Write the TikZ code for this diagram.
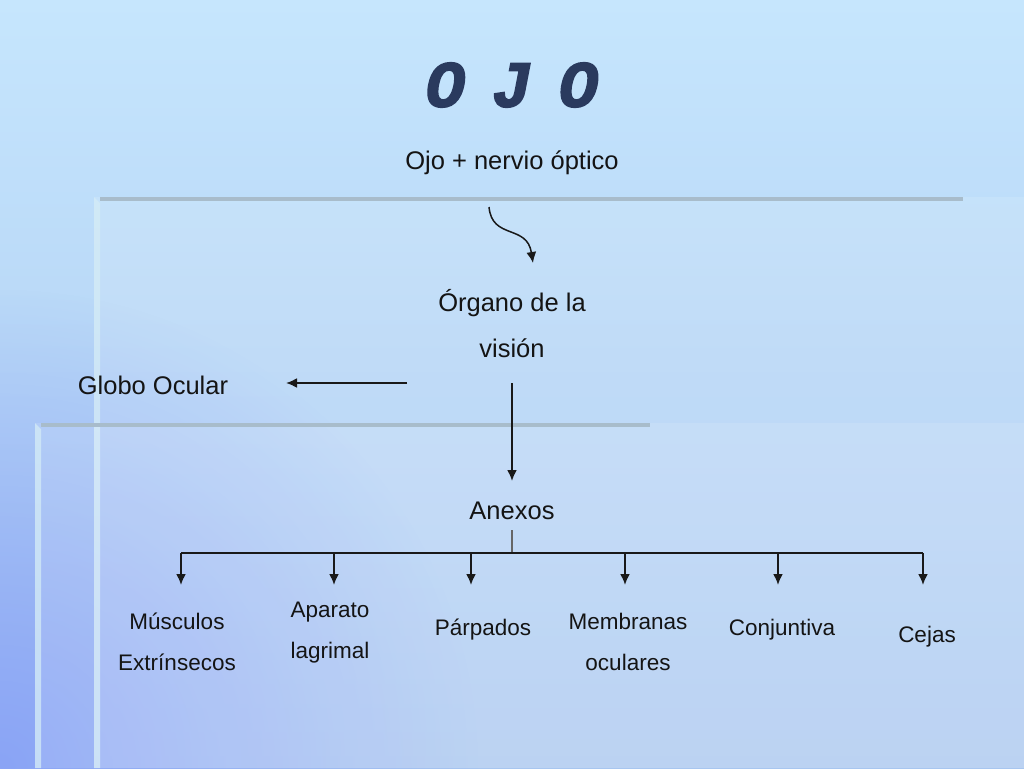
\documentclass[tikz,border=0pt]{standalone}
\usepackage{fontspec}
\setmainfont{Liberation Sans}
\newfontfamily\titlefont[BoldItalicFeatures={FakeBold=2.2}]{Liberation Mono}
\usetikzlibrary{arrows.meta,fadings}
\definecolor{bgtop}{HTML}{C6E6FD}
\definecolor{bgbot}{HTML}{A8C6F0}
\definecolor{bgpurple}{HTML}{8AA4F6}
\definecolor{titleblue}{HTML}{2A3A5E}
\definecolor{barcol}{HTML}{A8BCCB}
\definecolor{edgecol}{HTML}{D4ECF6}
\tikzfading[name=cornerfade, inner color=transparent!0, outer color=transparent!100]
\tikzset{
  bigtxt/.style={font=\fontsize{25.5}{46}\selectfont, align=center, inner sep=0pt, text=black!92},
  smalltxt/.style={font=\fontsize{22.5}{41}\selectfont, align=center, inner sep=0pt, text=black!92},
  titletxt/.style={font=\titlefont\bfseries\itshape\fontsize{66}{70}\selectfont, text=titleblue, inner sep=0pt},
  conn/.style={line width=2pt, black!90},
  arr/.style={conn, -{Latex[length=11pt,width=10pt]}},
  panel/.style={fill=white, opacity=0.12},
  edgestrip/.style={fill=edgecol, opacity=0.75},
  topbar/.style={fill=barcol}
}
\begin{document}
\begin{tikzpicture}[x=1pt,y=-1pt]
\useasboundingbox (0,0) rectangle (1024,768);
% background
\shade[top color=bgtop, bottom color=bgbot] (0,0) rectangle (1024,768);
\begin{scope}
\clip (0,0) rectangle (1024,768);
\fill[bgpurple, path fading=cornerfade] (0,768) circle (480);
\end{scope}
% panel 1
\fill[panel] (94,197) rectangle (1024,768);
\fill[edgestrip] (94,197) -- (100,203) -- (100,768) -- (94,768) -- cycle;
\fill[topbar] (100,197) rectangle (963,201);
% panel 2
\fill[panel] (35,423) rectangle (1024,768);
\fill[edgestrip] (35,423) -- (41,429) -- (41,768) -- (35,768) -- cycle;
\fill[topbar] (41,423) rectangle (650,427);

% texts
\node[titletxt] (ttl) at (512,85) {O\hspace{27pt}J\hspace{27pt}O};
\node[bigtxt] (ojo) at (512,163) {Ojo + nervio óptico};
\node[bigtxt] (org) at (512,324) {Órgano de la\\visión};
\node[bigtxt] (glob) at (153,385) {Globo Ocular};
\node[bigtxt] (anx) at (512,511) {Anexos};

\node[smalltxt] (mus) at (177,642) {Músculos\\Extrínsecos};
\node[smalltxt] (apa) at (330,633) {Aparato\\lagrimal};
\node[smalltxt] (par) at (483,630) {Párpados};
\node[smalltxt] (mem) at (628,642) {Membranas\\oculares};
\node[smalltxt] (con) at (782,630) {Conjuntiva};
\node[smalltxt] (cej) at (927,637) {Cejas};

% connectors
\coordinate (c1) at (489,207);
\coordinate (c2) at (533,263);
\draw[arr, line width=1.5pt] (c1) .. controls (492,240) and (527,224) .. (c2);

\coordinate (g1) at (407,383);
\coordinate (g2) at (286,383);
\draw[arr] (g1) -- (g2);

\coordinate (v1) at (512,383);
\coordinate (v2) at (512,481);
\draw[arr] (v1) -- (v2);

\coordinate (a1) at (512,530);
\coordinate (a2) at (512,553);
\draw[line width=1.2pt, black!60] (a1) -- (a2);

\coordinate (h1) at (181,553);
\coordinate (h6) at (923,553);
\draw[conn] (h1) -- (h6);

\foreach \x/\n in {181/mus,334/apa,471/par,625/mem,778/con,923/cej}{
  \coordinate (t\n) at (\x,553);
  \coordinate (b\n) at (\x,585);
  \draw[arr] (t\n) -- (b\n);
}
\end{tikzpicture}
\end{document}
